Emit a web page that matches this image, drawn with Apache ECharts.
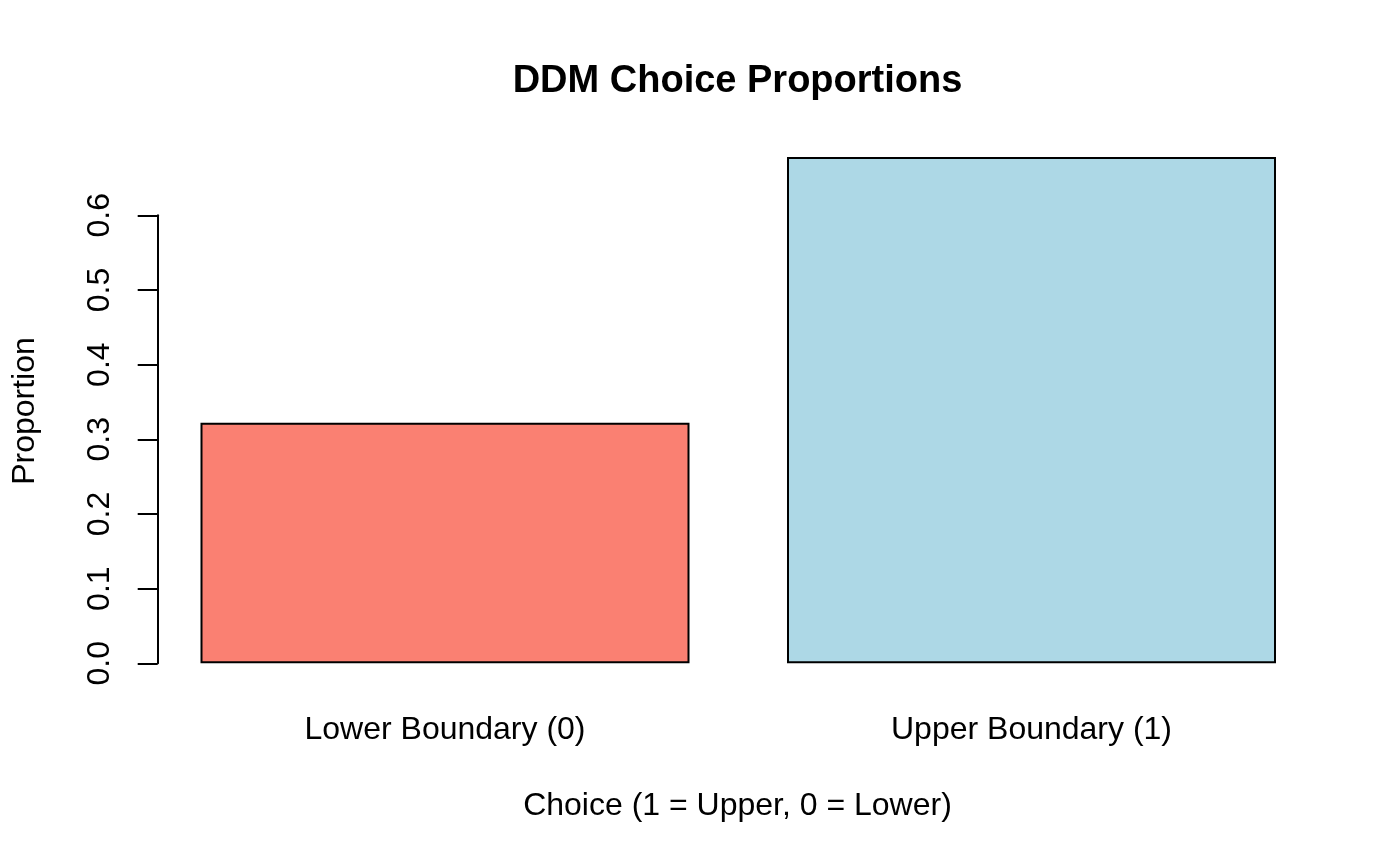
<!DOCTYPE html>
<html>
<head>
<meta charset="utf-8">
<script src="https://cdn.jsdelivr.net/npm/echarts@6/dist/echarts.min.js"></script>
<style>html,body{margin:0;padding:0;background:#fff;}#c{width:1400px;height:865px;}</style>
</head>
<body>
<div id="c"></div>
<script>
var categories = ['Lower Boundary (0)', 'Upper Boundary (1)'];
var proportions = [0.322, 0.678];
var barColors = ['#FA8072', '#ADD8E6'];
var yTicks = [0, 0.1, 0.2, 0.3, 0.4, 0.5, 0.6];
var titleText = 'DDM Choice Proportions';
var xName = 'Choice (1 = Upper, 0 = Lower)';
var yName = 'Proportion';

var FONT = '"Liberation Sans", Arial, sans-serif';
var chart = echarts.init(document.getElementById('c'), null, {renderer: 'canvas'});
chart.setOption({
  backgroundColor: '#ffffff',
  animation: false,
  grid: [
    {left: 151.75, right: 75.25, top: 140.6, bottom: 201.7},
    {left: 157.7, right: 75.25, top: 215.3, bottom: 201.7}
  ],
  xAxis: [
    {
      type: 'category', gridIndex: 0, data: categories,
      axisLine: {show: false}, axisTick: {show: false},
      axisLabel: {color: '#000', fontFamily: FONT, fontSize: 32, margin: 51}
    },
    {type: 'value', gridIndex: 1, show: false}
  ],
  yAxis: [
    {type: 'value', gridIndex: 0, min: 0, max: 0.7, show: false},
    {
      type: 'value', gridIndex: 1, min: 0, max: yTicks[yTicks.length - 1], interval: 0.1,
      splitLine: {show: false},
      axisLine: {show: true, lineStyle: {color: '#000', width: 2}},
      axisTick: {show: true, length: 20, lineStyle: {color: '#000', width: 2}},
      axisLabel: {
        color: '#000', fontFamily: FONT, fontSize: 32, rotate: 90, margin: 42,
        formatter: function (v) { return v.toFixed(1); }
      }
    }
  ],
  series: [{
    type: 'bar', xAxisIndex: 0, yAxisIndex: 0,
    barWidth: 489,
    data: proportions.map(function (v, i) {
      return {value: v, itemStyle: {color: barColors[i], borderColor: '#000', borderWidth: 2}};
    })
  }],
  graphic: [
    {type: 'text', x: 737.5, y: 82, style: {text: titleText, font: 'bold 38px ' + FONT, fill: '#000', textAlign: 'center', textVerticalAlign: 'middle'}},
    {type: 'text', x: 737.5, y: 806, style: {text: xName, font: '32px ' + FONT, fill: '#000', textAlign: 'center', textVerticalAlign: 'middle'}},
    {type: 'text', x: 25, y: 411, rotation: Math.PI / 2, style: {text: yName, font: '32px ' + FONT, fill: '#000', textAlign: 'center', textVerticalAlign: 'middle'}}
  ]
});
</script>
</body>
</html>
